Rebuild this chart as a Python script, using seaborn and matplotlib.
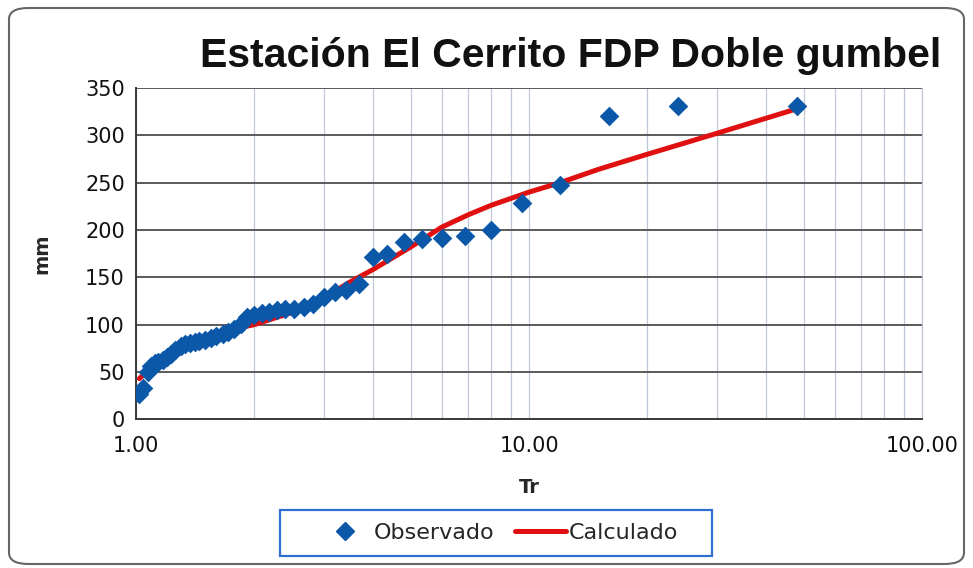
import numpy as np
import pandas as pd
import seaborn as sns
import matplotlib.pyplot as plt
from matplotlib.patches import FancyBboxPatch, Rectangle
from matplotlib.lines import Line2D
from matplotlib.ticker import FixedLocator, FixedFormatter, LogLocator, NullFormatter

# --- data ---
tr_obs = [48.0, 24.0, 16.0, 12.0, 9.6, 8.0, 6.86, 6.0, 5.33, 4.8,
          4.36, 4.0, 3.69, 3.43, 3.2, 3.0, 2.82, 2.67, 2.53, 2.4,
          2.29, 2.18, 2.09, 2.0, 1.92, 1.85, 1.78, 1.71, 1.66, 1.6,
          1.55, 1.5, 1.45, 1.41, 1.37, 1.33, 1.30, 1.26, 1.23, 1.2,
          1.17, 1.14, 1.12, 1.09, 1.07, 1.04, 1.02]
mm_obs = [331, 331, 320, 247, 228, 200, 194, 192, 190, 187,
          175, 171, 143, 137, 134, 129, 122, 119, 117, 116,
          115, 113, 112, 110, 108, 101, 95, 92, 90, 88,
          86, 84, 83, 82, 81, 80, 77, 73, 69, 66,
          63, 61, 59, 56, 50, 33, 27]

tr_calc = [1.02, 1.1, 1.2, 1.3, 1.5, 1.75, 2.0, 2.5, 3.0, 3.5,
           4.0, 5.0, 6.0, 7.0, 8.0, 10.0, 12.0, 15.0, 20.0, 30.0, 48.0]
mm_calc = [43, 56, 68, 76, 87, 95, 100, 113, 128, 145,
           158, 182, 203, 216, 226, 240, 250, 264, 280, 302, 328]

title = "Estación El Cerrito FDP Doble gumbel"
x_ticks = [1, 10, 100]
x_tick_labels = ["1.00", "10.00", "100.00"]
y_ticks = [0, 50, 100, 150, 200, 250, 300, 350]

obs = pd.DataFrame({"Tr": tr_obs, "mm": mm_obs})
calc = pd.DataFrame({"Tr": tr_calc, "mm": mm_calc})

sns.set_style("white")
plt.rcParams['font.family'] = ['DejaVu Sans']

fig = plt.figure(figsize=(9.73, 5.68), dpi=100)
ax = fig.add_axes([136 / 973, 1 - 419.3 / 568, (922 - 136) / 973, (419.3 - 88) / 568])

blue = '#0b57a8'
red = '#e01010'

sns.lineplot(data=calc, x="Tr", y="mm", ax=ax, color=red, linewidth=3.6, zorder=3,
             legend=False)
sns.scatterplot(data=obs, x="Tr", y="mm", ax=ax, color=blue, marker='D', s=100,
                linewidth=0, zorder=4, legend=False)

ax.set_xscale('log')
ax.set_xlim(1, 100)
ax.set_ylim(0, 350)

ax.xaxis.set_major_locator(FixedLocator(x_ticks))
ax.xaxis.set_major_formatter(FixedFormatter(x_tick_labels))
ax.xaxis.set_minor_locator(LogLocator(base=10, subs=np.arange(2, 10)))
ax.xaxis.set_minor_formatter(NullFormatter())
ax.set_yticks(y_ticks)

ax.grid(True, axis='x', which='both', color='#c0c8d6', linewidth=0.9, zorder=0)
ax.grid(True, axis='y', which='major', color='#5a5a5a', linewidth=1.4, zorder=0)
ax.set_axisbelow(True)

ax.spines['top'].set_visible(False)
ax.spines['right'].set_color('#c0c8d6')
ax.spines['right'].set_linewidth(0.9)
ax.spines['left'].set_color('#3a3a3a')
ax.spines['bottom'].set_color('#3a3a3a')
ax.spines['left'].set_linewidth(1.4)
ax.spines['bottom'].set_linewidth(1.4)

ax.tick_params(axis='both', which='both', length=0, labelsize=15, colors='#111111', pad=8)
ax.tick_params(axis='x', pad=12)

ax.set_xlabel("Tr", fontsize=14, fontweight='bold', labelpad=16)
ax.set_ylabel("mm", fontsize=14, fontweight='bold', labelpad=24)

fig.text(571 / 973, 1 - 56 / 568, title, ha='center', va='center',
         fontsize=29.5, fontweight='bold', family=['Liberation Sans', 'DejaVu Sans'],
         color='#111111')

# legend at bottom, frame drawn separately
handles = [Line2D([], [], linestyle='none', marker='D', markersize=9, color=blue),
           Line2D([], [], color=red, linewidth=3.6)]
leg = fig.legend(handles, ["Observado", "Calculado"], loc='center',
                 bbox_to_anchor=(499 / 973, 1 - 533 / 568), ncol=2, fontsize=16,
                 frameon=False, handlelength=2.3, handletextpad=0.15,
                 columnspacing=0.9)
fig.patches.append(Rectangle((280 / 973, 1 - 556 / 568), 432 / 973, 46 / 568,
                             transform=fig.transFigure, fill=False,
                             edgecolor='#2f6fd0', linewidth=1.6))

# outer rounded chart border
border = FancyBboxPatch((9 / 973, 4 / 568), 955 / 973, 556 / 568,
                        boxstyle='round,pad=0,rounding_size=0.02',
                        transform=fig.transFigure, fill=False,
                        edgecolor='#666666', linewidth=1.5)
fig.patches.append(border)

fig.savefig("out.png", dpi=100)
plt.close(fig)
